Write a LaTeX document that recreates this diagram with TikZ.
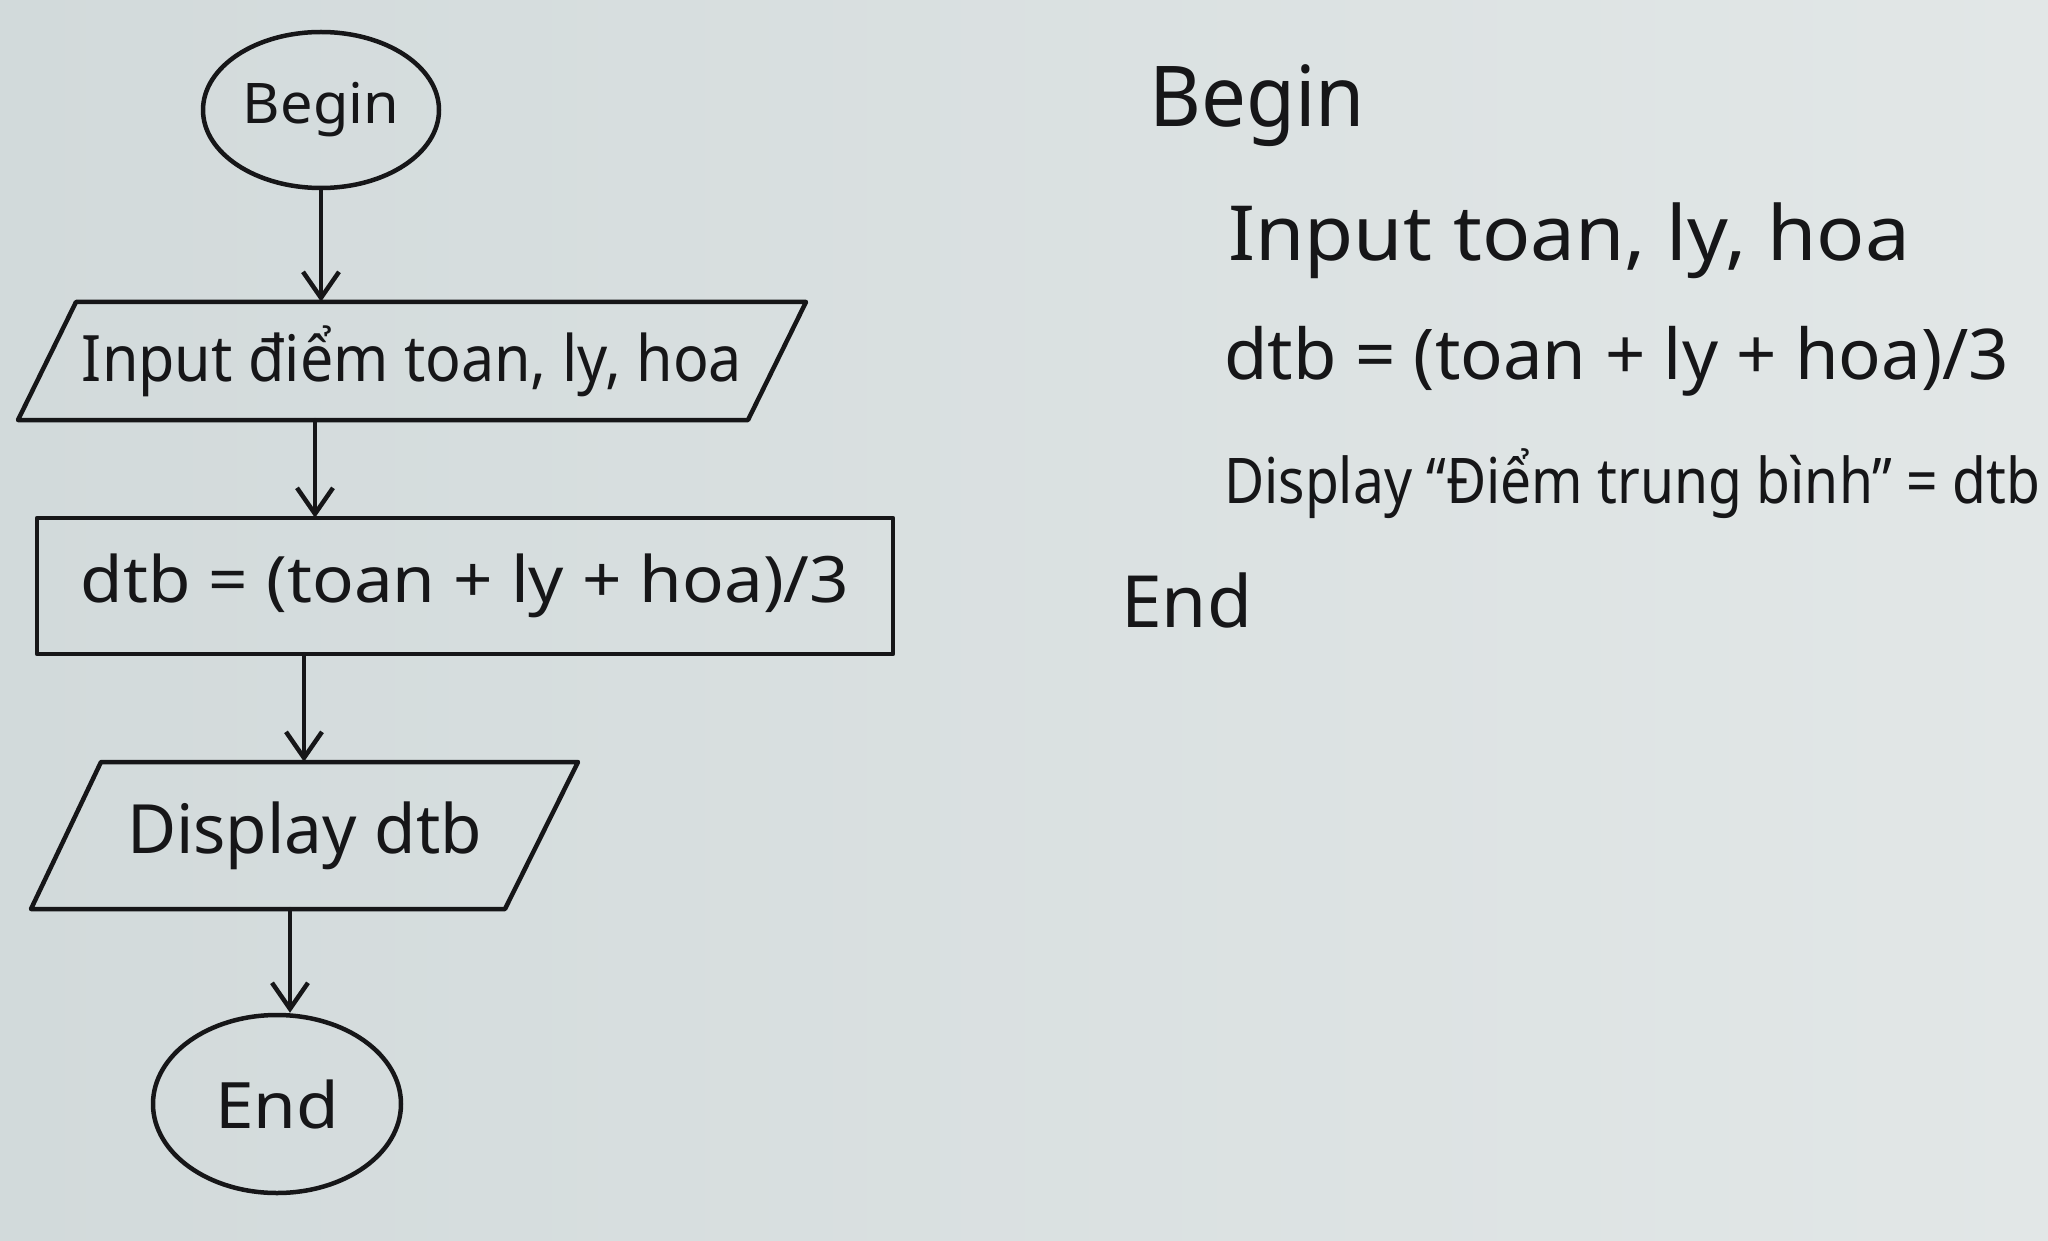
\documentclass[tikz,border=0pt]{standalone}
\usepackage{fontspec}
\usepackage{graphicx}
\setmainfont{Noto Sans}
\usetikzlibrary{arrows.meta,shapes.geometric,calc}
\definecolor{paper}{RGB}{210,218,219}
\definecolor{paperhi}{RGB}{226,231,231}
\definecolor{ink}{RGB}{22,22,24}
% size, width, text
\newcommand\fitw[3]{{\fontsize{#1pt}{#1pt}\selectfont\resizebox{#2pt}{\height}{#3}}}
\begin{document}
\begin{tikzpicture}[x=1pt,y=-1pt,
  pen/.style={draw=ink,line width=4.5pt,line join=round,line cap=round},
  arr/.style={pen,-{Straight Barb[length=26pt,width=36pt,line width=4.5pt]}},
  term/.style={ellipse,pen,inner sep=0pt,text=ink},
  boxarea/.style={rectangle,inner sep=0pt,text=ink},
  txt/.style={anchor=base west,inner sep=0pt,text=ink}]
\useasboundingbox (0,0) rectangle (2048,1241);
\shade[left color=paper, right color=paperhi] (0,0) rectangle (2048,1241);

% flowchart
\node[term, minimum width=236pt, minimum height=156pt] (start) at (321,110) {\fitw{56}{156}{Begin}};

\draw[pen] (18,420) -- (748,420) -- (806,302) -- (76,302) -- cycle;
\node[boxarea, minimum width=730pt, minimum height=118pt] (input) at (412,361) {\fitw{64}{660}{Input điểm toan, ly, hoa}};

\draw[pen] (37,518) rectangle (893,654);
\node[boxarea, minimum width=856pt, minimum height=136pt] (proc) at (465,586) {\fitw{64}{768}{dtb = (toan + ly + hoa)/3}};

\draw[pen] (31,909) -- (505,909) -- (578,762) -- (101,762) -- cycle;
\node[boxarea, minimum width=474pt, minimum height=147pt] (disp) at (304.5,835.5) {\fitw{68}{355}{Display dtb}};

\node[term, minimum width=248pt, minimum height=178pt] (stop) at (277,1104) {\fitw{64}{124}{End}};

\draw[arr] (start.south) -- (start.south |- input.north);
\draw[arr] ([xshift=-97pt]input.south) -- ([xshift=-97pt]input.south |- proc.north);
\draw[arr] ([xshift=-161pt]proc.south) -- ([xshift=-161pt]proc.south |- disp.north);
\draw[arr] ([xshift=-14.5pt]disp.south) -- ([xshift=-14.5pt]disp.south |- stop.north);

% pseudocode
\node[txt] (p0) at (1149,127) {\fitw{84}{216}{Begin}};
\node[txt] (p1) at (1228,261) {\fitw{76}{682}{Input toan, ly, hoa}};
\node[txt] (p2) at (1224,379) {\fitw{70}{785}{dtb = (toan + ly + hoa)/3}};
\node[txt] (p3) at (1224,503) {\fitw{63}{816}{Display “Điểm trung bình” = dtb}};
\node[txt] (p4) at (1121,627) {\fitw{72}{131}{End}};
\end{tikzpicture}
\end{document}
